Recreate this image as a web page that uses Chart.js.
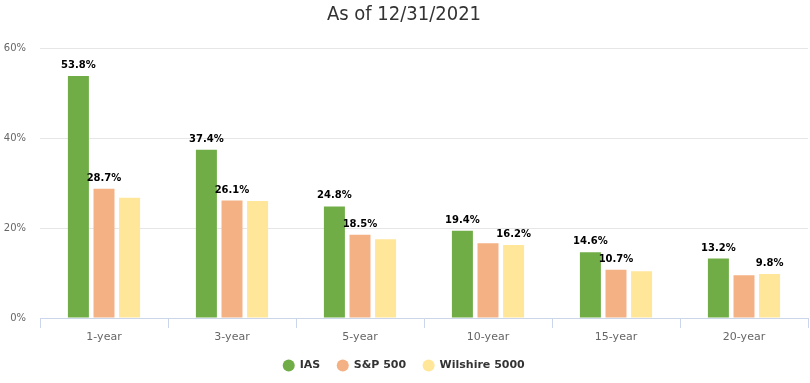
<!DOCTYPE html>
<html>
<head>
<meta charset="utf-8">
<script src="https://cdn.jsdelivr.net/npm/chart.js@4.4.1/dist/chart.umd.min.js"></script>
<style>
    html, body { margin: 0; padding: 0; background: #fff; }
    #wrap { width: 810px; height: 383px; position: relative; }
</style>
</head>
<body>
<div id="wrap"><canvas id="perfChart"></canvas></div>
<script>
const categories = ['1-year', '3-year', '5-year', '10-year', '15-year', '20-year'];
const iasValues = [53.8, 37.4, 24.8, 19.4, 14.6, 13.2];
const spValues = [28.7, 26.1, 18.5, 16.6, 10.7, 9.5];
const wilshireValues = [26.7, 26.0, 17.5, 16.2, 10.4, 9.8];

// labels as they show on the picture (others hidden by overlap)
const iasLabels = ['53.8%', '37.4%', '24.8%', '19.4%', '14.6%', '13.2%'];
const spLabels = ['28.7%', '26.1%', '18.5%', null, '10.7%', null];
const wilshireLabels = [null, null, null, '16.2%', null, '9.8%'];

const yTicks = [0, 20, 40, 60];

const barLabels = {
    id: 'barLabels',
    afterDatasetsDraw(chart) {
        const c = chart.ctx;
        c.save();
        c.font = 'bold 10px "DejaVu Sans", Verdana, sans-serif';
        c.fillStyle = '#000';
        c.textAlign = 'center';
        c.textBaseline = 'alphabetic';
        chart.data.datasets.forEach((ds, i) => {
            const meta = chart.getDatasetMeta(i);
            meta.data.forEach((bar, j) => {
                const txt = ds.valueLabels[j];
                if (!txt) return;
                c.fillText(txt, bar.x, bar.y - 8);
            });
        });
        c.restore();
    }
};

const ctx = document.getElementById('perfChart').getContext('2d');
const chart = new Chart(ctx, {
    type: 'bar',
    data: {
        labels: categories,
        datasets: [
            { label: 'IAS', data: iasValues, valueLabels: iasLabels, backgroundColor: '#70ad47' },
            { label: 'S&P 500', data: spValues, valueLabels: spLabels, backgroundColor: '#f4b183' },
            { label: 'Wilshire 5000', data: wilshireValues, valueLabels: wilshireLabels, backgroundColor: '#ffe699' }
        ]
    },
    options: {
        responsive: true,
        maintainAspectRatio: false,
        animation: false,
        categoryPercentage: 0.6,
        barPercentage: 0.82,
        layout: { padding: { left: 0, right: 2, top: 0, bottom: 2 } },
        plugins: {
            title: {
                display: true,
                text: 'As of 12/31/2021',
                color: '#333',
                font: { family: '"DejaVu Sans Condensed", "Liberation Sans Narrow", sans-serif', size: 20, weight: 'normal' },
                padding: { top: 3, bottom: 21 }
            },
            legend: {
                position: 'bottom',
                labels: {
                    usePointStyle: true,
                    pointStyle: 'circle',
                    boxWidth: 12,
                    boxHeight: 8.5,
                    padding: 17,
                    color: '#333',
                    font: { family: '"DejaVu Sans", Verdana, sans-serif', size: 11, weight: 'bold' }
                }
            },
            tooltip: { enabled: false }
        },
        scales: {
            x: {
                afterFit: (axis) => { axis.height = 25; },
                grid: {
                    display: true,
                    drawOnChartArea: false,
                    color: '#ccd6eb',
                    tickLength: 10
                },
                border: { display: true, color: '#ccd6eb' },
                ticks: {
                    color: '#666',
                    padding: 3,
                    font: { family: '"DejaVu Sans", Verdana, sans-serif', size: 11 }
                }
            },
            y: {
                min: 0,
                max: 60,
                afterFit: (axis) => { axis.width = 40; },
                afterBuildTicks: (axis) => {
                    axis.ticks = yTicks.map(v => ({ value: v }));
                },
                grid: { color: '#e6e6e6', drawTicks: false },
                border: { display: false },
                ticks: {
                    color: '#666',
                    padding: 14,
                    font: { family: '"DejaVu Sans", Verdana, sans-serif', size: 10 },
                    callback: (v) => v + '%'
                }
            }
        }
    },
    plugins: [barLabels]
});
</script>
</body>
</html>
